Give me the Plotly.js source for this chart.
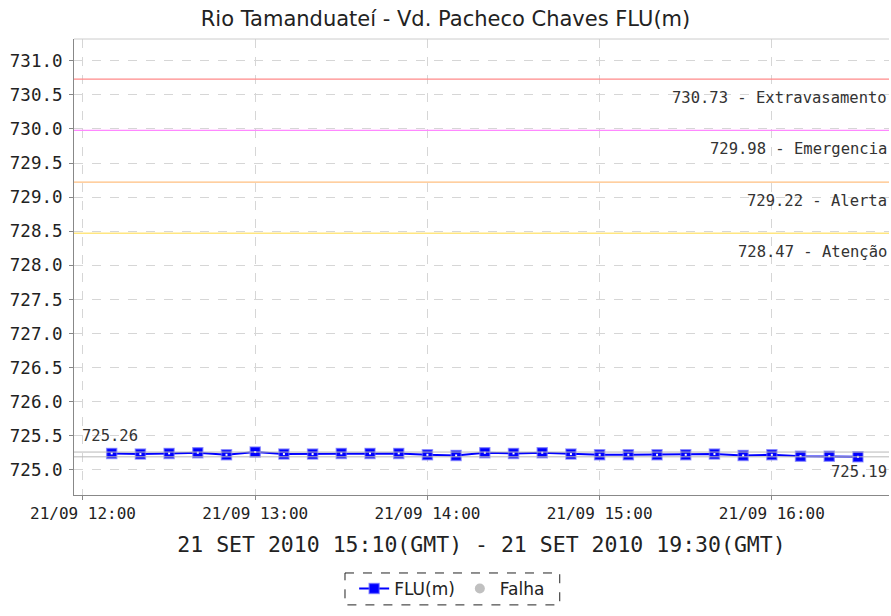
<!DOCTYPE html>
<html>
<head>
<meta charset="utf-8">
<script src="https://cdn.plot.ly/plotly-3.0.1.min.js"></script>
<style>html,body{margin:0;padding:0;background:#fff;}#chart{width:891px;height:616px;}</style>
</head>
<body>
<div id="chart"></div>
<script>
// ---- data ----
const times = [
  "2010-09-21 12:10","2010-09-21 12:20","2010-09-21 12:30","2010-09-21 12:40","2010-09-21 12:50",
  "2010-09-21 13:00","2010-09-21 13:10","2010-09-21 13:20","2010-09-21 13:30","2010-09-21 13:40",
  "2010-09-21 13:50","2010-09-21 14:00","2010-09-21 14:10","2010-09-21 14:20","2010-09-21 14:30",
  "2010-09-21 14:40","2010-09-21 14:50","2010-09-21 15:00","2010-09-21 15:10","2010-09-21 15:20",
  "2010-09-21 15:30","2010-09-21 15:40","2010-09-21 15:50","2010-09-21 16:00","2010-09-21 16:10",
  "2010-09-21 16:20","2010-09-21 16:30"
];
const flu = [
  725.24,725.23,725.24,725.25,725.22,
  725.26,725.23,725.23,725.24,725.24,
  725.24,725.22,725.21,725.25,725.24,
  725.25,725.23,725.22,725.22,725.22,
  725.22,725.23,725.21,725.22,725.20,
  725.20,725.19
];
const levelValues = [730.73, 729.98, 729.22, 728.47];
const levelNames = ["Extravasamento", "Emergencia", "Alerta", "Atenção"];
const levelColors = ["#ff8a8a", "#ff88ff", "#ffbf80", "#ffe680"];
const hourTicks = ["2010-09-21 12:00","2010-09-21 13:00","2010-09-21 14:00","2010-09-21 15:00","2010-09-21 16:00"];
const chartTitle = "Rio Tamanduateí - Vd. Pacheco Chaves FLU(m)";
const xTitle = "21 SET 2010 15:10(GMT) - 21 SET 2010 19:30(GMT)";

const maxV = Math.max(...flu), minV = Math.min(...flu);
const labelFont = {family: "DejaVu Sans Mono", size: 15.5, color: "#333"};

const traces = [
  {x: times, y: flu, type: "scatter", mode: "lines+markers", name: "FLU(m)",
   line: {color: "#0000ff", width: 2},
   marker: {symbol: "square", size: 10, color: "#0000ff", line: {color: "rgba(100,100,255,0.6)", width: 1.5}}},
  {x: times, y: flu, type: "scatter", mode: "markers", showlegend: false, hoverinfo: "skip",
   marker: {symbol: "square", size: 2, color: "#ffffff"}},
  {x: [null], y: [null], type: "scatter", mode: "markers", name: "Falha",
   marker: {symbol: "circle", size: 10, color: "#c0c0c0"}}
];

const shapes = [];
const annotations = [];
levelValues.forEach((v, i) => {
  shapes.push({type: "line", xref: "paper", x0: 0, x1: 1, yref: "y", y0: v, y1: v,
    line: {color: levelColors[i], width: 1.3}});
  annotations.push({xref: "paper", x: 1, xanchor: "right", yref: "y", y: v, yanchor: "top", yshift: -8,
    showarrow: false, text: v.toFixed(2) + " - " + levelNames[i], font: labelFont});
});
[maxV, minV].forEach(v => {
  shapes.push({type: "line", xref: "paper", x0: 0, x1: 1, yref: "y", y0: v, y1: v,
    line: {color: "#b8b8b8", width: 1}});
});
annotations.push({xref: "paper", x: 0, xanchor: "left", xshift: 6, yref: "y", y: maxV, yanchor: "bottom", yshift: 5,
  showarrow: false, text: maxV.toFixed(2), font: labelFont});
annotations.push({xref: "paper", x: 1, xanchor: "right", yref: "y", y: minV, yanchor: "top", yshift: -4,
  showarrow: false, text: minV.toFixed(2), font: labelFont});
// dashed legend border
shapes.push({type: "rect", xref: "paper", yref: "paper", x0: 0.3325, x1: 0.596, y0: -0.171, y1: -0.241,
  line: {color: "#222", width: 1, dash: "dash"}});
// light top border
shapes.push({type: "line", xref: "paper", yref: "paper", x0: 0, x1: 1, y0: 1, y1: 1,
  line: {color: "#cccccc", width: 1}});

const layout = {
  width: 891, height: 616,
  margin: {l: 74, r: 2, t: 39, b: 121},
  paper_bgcolor: "#ffffff", plot_bgcolor: "#ffffff",
  font: {family: "DejaVu Sans", color: "#222"},
  title: {text: chartTitle, x: 0.5, xanchor: "center", y: 0.97, yanchor: "middle",
          font: {family: "DejaVu Sans", size: 21, color: "#222"}},
  xaxis: {type: "date", range: ["2010-09-21 11:56:52", "2010-09-21 16:40:49"],
    tickvals: hourTicks, tickformat: "%d/%m %H:%M",
    tickfont: {family: "DejaVu Sans Mono", size: 16, color: "#222"},
    ticks: "outside", ticklen: 4, tickcolor: "#888",
    showgrid: true, gridcolor: "#d6d6d6", griddash: "dash",
    showline: true, linecolor: "#888", linewidth: 1, mirror: false, zeroline: false,
    title: {text: xTitle, standoff: 14, font: {family: "DejaVu Sans Mono", size: 21.5, color: "#222"}}},
  yaxis: {range: [724.63, 731.32], dtick: 0.5, tick0: 725, tickformat: ".1f",
    tickfont: {family: "DejaVu Sans Mono", size: 17.5, color: "#222"},
    ticks: "outside", ticklen: 4, tickcolor: "#888", ticklabelstandoff: 3,
    showgrid: true, gridcolor: "#d6d6d6", griddash: "dash",
    showline: true, linecolor: "#888", linewidth: 1, zeroline: false},
  showlegend: true,
  legend: {orientation: "h", x: 0.464, xanchor: "center", y: -0.206, yanchor: "middle",
    font: {family: "DejaVu Sans", size: 17, color: "#222"}, bgcolor: "rgba(0,0,0,0)", borderwidth: 0,
    itemwidth: 30},
  shapes: shapes,
  annotations: annotations
};

Plotly.newPlot("chart", traces, layout, {displayModeBar: false, staticPlot: true});
</script>
</body>
</html>
